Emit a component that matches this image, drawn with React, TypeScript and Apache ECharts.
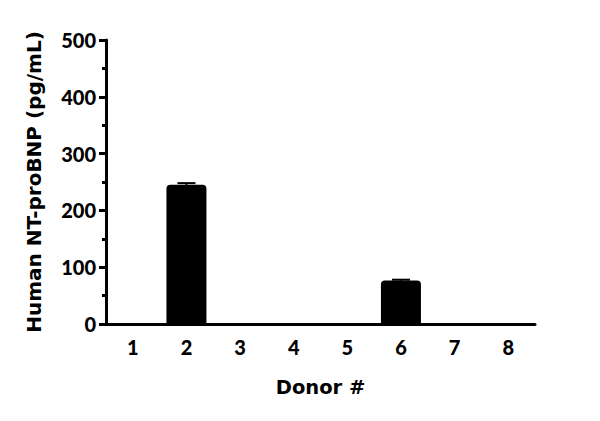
import React, { useEffect, useRef } from "react";
import * as echarts from "echarts";

const donors = ["1", "2", "3", "4", "5", "6", "7", "8"];
const means = [0, 245, 0, 0, 0, 76.5, 0, 0];
const errUpper = [0, 248, 0, 0, 0, 78, 0, 0];
const yTicks = { min: 0, max: 500, interval: 100 };
const yTitle = "Human NT-proBNP (pg/mL)";
const xTitle = "Donor #";

export default function App() {
  const ref = useRef<HTMLDivElement>(null);
  useEffect(() => {
    if (!ref.current) return;
    const chart = echarts.init(ref.current, null, { renderer: "svg" });
    const errData = donors
      .map((d, i) => [i, means[i], errUpper[i]])
      .filter((r) => r[2] > r[1]);
    chart.setOption({
      animation: false,
      backgroundColor: "#ffffff",
      grid: { left: 106, right: 65, top: 40, bottom: 97 },
      xAxis: {
        type: "category",
        data: donors,
        name: xTitle,
        nameLocation: "middle",
        nameGap: 53,
        nameTextStyle: { fontFamily: "DejaVu Sans", fontWeight: "bold", fontSize: 19.5, color: "#000" },
        axisLine: { lineStyle: { color: "#000", width: 3 } },
        axisTick: { alignWithLabel: true, length: 7, lineStyle: { color: "#000", width: 3 } },
        axisLabel: { fontFamily: "Lato", fontWeight: 900, fontSize: 20, color: "#000", margin: 13 },
      },
      yAxis: {
        type: "value",
        min: yTicks.min,
        max: yTicks.max,
        interval: yTicks.interval,
        name: yTitle,
        nameLocation: "middle",
        nameGap: 62,
        nameTextStyle: { fontFamily: "DejaVu Sans", fontWeight: "bold", fontSize: 20, color: "#000" },
        axisLine: { show: true, lineStyle: { color: "#000", width: 3 } },
        axisTick: { show: true, length: 7, lineStyle: { color: "#000", width: 3 } },
        minorTick: { show: true, splitNumber: 2, length: 4, lineStyle: { color: "#000", width: 3 } },
        splitLine: { show: false },
        axisLabel: { fontFamily: "Lato", fontWeight: 900, fontSize: 20, color: "#000", margin: 10 },
      },
      series: [
        {
          type: "bar",
          data: means,
          barWidth: 40,
          itemStyle: { color: "#000", borderRadius: [4, 4, 0, 0] },
          z: 2,
        },
        {
          type: "custom",
          data: errData,
          z: 3,
          renderItem: (params: any, api: any) => {
            const x = api.value(0);
            const lo = api.coord([x, api.value(1)]);
            const hi = api.coord([x, api.value(2)]);
            const half = 9;
            const style = { stroke: "#000", lineWidth: 2 };
            return {
              type: "group",
              children: [
                { type: "line", shape: { x1: lo[0], y1: lo[1], x2: hi[0], y2: hi[1] }, style },
                { type: "line", shape: { x1: hi[0] - half, y1: hi[1], x2: hi[0] + half, y2: hi[1] }, style },
              ],
            };
          },
        },
      ],
    });
    return () => chart.dispose();
  }, []);
  return (
    <div
      ref={ref}
      style={{ position: "fixed", left: 0, top: 0, width: 600, height: 421, background: "#fff" }}
    />
  );
}
